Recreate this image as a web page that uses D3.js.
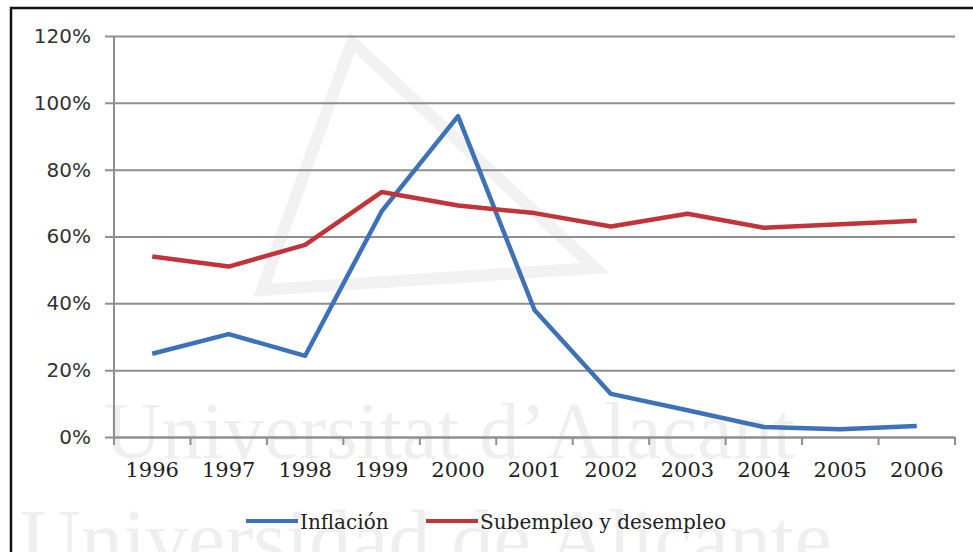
<!DOCTYPE html>
<html>
<head>
<meta charset="utf-8">
<script src="https://cdn.jsdelivr.net/npm/d3@7"></script>
<style>
  body { margin: 0; background: #fff; }
  svg { display: block; }
  .y-axis text { font-family: "DejaVu Sans", sans-serif; font-size: 20px; fill: #333; }
  .x-axis text { font-family: "DejaVu Serif", serif; font-size: 21px; fill: #222; }
  .legend text { font-family: "DejaVu Serif", serif; font-size: 20px; fill: #222; }
  .watermark { font-family: "Liberation Serif", serif; fill: #efefef; }
</style>
</head>
<body>
<svg id="chart" width="973" height="552"></svg>
<script>
const years = ['1996', '1997', '1998', '1999', '2000', '2001', '2002', '2003', '2004', '2005', '2006'];
const inflacion = [24.9, 30.8, 24.3, 67.5, 96, 38, 12.9, 8, 3, 2.3, 3.3];
const subempleo = [54, 51, 57.5, 73.3, 69.3, 67, 63, 66.8, 62.6, 63.7, 64.7];
const yTicks = [0, 20, 40, 60, 80, 100, 120];

const seriesNames = ['Inflación', 'Subempleo y desempleo'];
const seriesColors = ['#3d71b8', '#c1343a'];

const svg = d3.select('#chart');
const width = 973;
const height = 552;

const margin = { top: 36, right: 18, bottom: 115, left: 114 };
const plotW = width - margin.left - margin.right;
const plotH = height - margin.top - margin.bottom;

// faint watermark from the scanned source
svg.append('text')
    .attr('class', 'watermark')
    .attr('x', 104)
    .attr('y', 458)
    .attr('font-size', 80)
    .text('Universitat d\u2019Alacant');
svg.append('text')
    .attr('class', 'watermark')
    .attr('x', 20)
    .attr('y', 568)
    .attr('font-size', 84)
    .text('Universidad de Alicante');
svg.append('path')
    .attr('d', 'M262,290 L352,42 L595,268 Z')
    .attr('fill', 'none')
    .attr('stroke', '#f2f2f2')
    .attr('stroke-width', 12);

const g = svg.append('g')
    .attr('transform', `translate(${margin.left},${margin.top})`);

const x = d3.scaleBand()
    .domain(years)
    .range([0, plotW]);

const y = d3.scaleLinear()
    .domain([0, 120])
    .range([plotH, 0]);

// horizontal gridlines + y labels
const yAxis = g.append('g')
    .attr('class', 'y-axis')
    .call(d3.axisLeft(y)
        .tickValues(yTicks)
        .tickSize(-plotW - 9)
        .tickFormat(d => d + '%'));
yAxis.select('.domain').remove();
yAxis.selectAll('.tick line')
    .attr('x1', -9)
    .attr('x2', plotW)
    .attr('stroke', '#8f8f8f')
    .attr('stroke-width', 2);
yAxis.selectAll('.tick text').attr('x', -23);

// vertical axis line
g.append('line')
    .attr('x1', 0).attr('x2', 0)
    .attr('y1', 0).attr('y2', plotH)
    .attr('stroke', '#8f8f8f')
    .attr('stroke-width', 2);

// x axis with ticks between categories
const xAxis = g.append('g')
    .attr('class', 'x-axis')
    .attr('transform', `translate(0,${plotH})`)
    .call(d3.axisBottom(x).tickSize(0).tickPadding(25));
xAxis.select('.domain')
    .attr('stroke', '#8f8f8f')
    .attr('stroke-width', 2);

xAxis.selectAll('line.sep')
    .data(d3.range(years.length + 1))
    .enter()
    .append('line')
    .attr('class', 'sep')
    .attr('x1', i => i * x.step())
    .attr('x2', i => i * x.step())
    .attr('y1', 0)
    .attr('y2', 8)
    .attr('stroke', '#8f8f8f')
    .attr('stroke-width', 2);

const line = d3.line()
    .x((d, i) => x(years[i]) + x.bandwidth() / 2)
    .y(d => y(d));

[inflacion, subempleo].forEach((values, i) => {
    g.append('path')
        .datum(values)
        .attr('fill', 'none')
        .attr('stroke', seriesColors[i])
        .attr('stroke-width', 4.5)
        .attr('stroke-linejoin', 'round')
        .attr('d', line);
});

// legend
const legend = svg.append('g').attr('class', 'legend');
const legendItems = [
    { x: 246, name: seriesNames[0], color: seriesColors[0] },
    { x: 426, name: seriesNames[1], color: seriesColors[1] }
];
legendItems.forEach(item => {
    legend.append('line')
        .attr('x1', item.x)
        .attr('x2', item.x + 52)
        .attr('y1', 521)
        .attr('y2', 521)
        .attr('stroke', item.color)
        .attr('stroke-width', 4);
    legend.append('text')
        .attr('x', item.x + 54)
        .attr('y', 529)
        .text(item.name);
});

// outer frame
svg.append('rect')
    .attr('x', 11)
    .attr('y', 8)
    .attr('width', 980)
    .attr('height', 560)
    .attr('fill', 'none')
    .attr('stroke', '#111')
    .attr('stroke-width', 2.5);
</script>
</body>
</html>
